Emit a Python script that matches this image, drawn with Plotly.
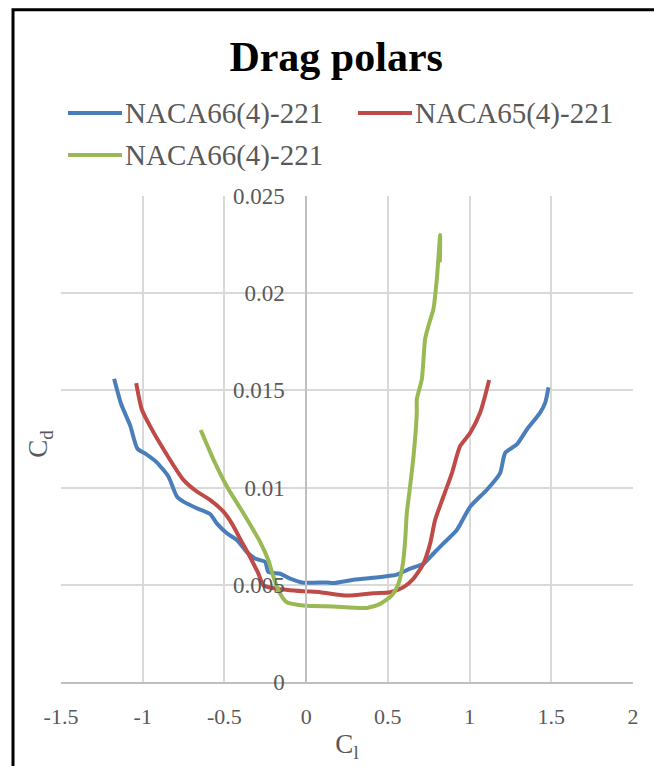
import plotly.graph_objects as go

# Drag polars: lift coefficient (Cl) vs drag coefficient (Cd)
naca66_a_cl = [-1.175, -1.132, -1.077, -1.032, -0.975, -0.914, -0.843, -0.791, -0.751, -0.669,
               -0.588, -0.547, -0.485, -0.424, -0.363, -0.312, -0.251, -0.231, -0.159, -0.098,
               -0.016, 0.127, 0.167, 0.290, 0.453, 0.555, 0.636, 0.718, 0.779, 0.840,
               0.922, 1.004, 1.106, 1.187, 1.218, 1.289, 1.351, 1.432, 1.463, 1.483]
naca66_a_cd = [0.0156, 0.0143, 0.0132, 0.0120, 0.0117, 0.0113, 0.01057, 0.00954, 0.00928, 0.00894,
               0.00864, 0.00816, 0.00765, 0.00730, 0.00669, 0.00635, 0.00618, 0.00566, 0.00557, 0.00532,
               0.00511, 0.00512, 0.00509, 0.00526, 0.00540, 0.00552, 0.00583, 0.00609, 0.00661, 0.00713,
               0.00782, 0.00902, 0.00989, 0.01075, 0.01179, 0.01222, 0.01299, 0.01386, 0.01437, 0.01515]

naca65_cl = [-1.040, -1.006, -0.955, -0.853, -0.751, -0.669, -0.588, -0.506, -0.455, -0.394,
             -0.343, -0.292, -0.261, -0.179, -0.016, 0.086, 0.249, 0.412, 0.514, 0.596,
             0.657, 0.718, 0.759, 0.789, 0.840, 0.892, 0.942, 1.004, 1.065, 1.095, 1.120]
naca65_cd = [0.01537, 0.01403, 0.01316, 0.01170, 0.01040, 0.00980, 0.00937, 0.00876, 0.00816, 0.00721,
             0.00643, 0.00557, 0.00497, 0.00480, 0.00467, 0.00462, 0.00445, 0.00457, 0.00462, 0.00488,
             0.00532, 0.00609, 0.00713, 0.00833, 0.00954, 0.01075, 0.01213, 0.01282, 0.01386, 0.01472, 0.01553]

naca66_b_cl = [-0.645, -0.567, -0.485, -0.384, -0.282, -0.231, -0.200, -0.159, -0.118, -0.016,
               0.167, 0.371, 0.453, 0.524, 0.565, 0.592, 0.606, 0.616, 0.636, 0.657,
               0.677, 0.677, 0.708, 0.728, 0.749, 0.779, 0.800, 0.820, 0.818]
naca66_b_cd = [0.01296, 0.01144, 0.01006, 0.00868, 0.00721, 0.00626, 0.00540, 0.00454, 0.00410, 0.00393,
               0.00388, 0.00381, 0.00402, 0.00445, 0.00506, 0.00609, 0.00730, 0.00868, 0.01006, 0.01161,
               0.01386, 0.01454, 0.01558, 0.01765, 0.01834, 0.01920, 0.02076, 0.02300, 0.02160]

series_names = ["NACA66(4)-221", "NACA65(4)-221", "NACA66(4)-221"]
series_colors = ["#4A7EBB", "#BE4B48", "#98B954"]

x_tick_vals = [-1.5, -1, -0.5, 0, 0.5, 1, 1.5, 2]
x_tick_text = ["-1.5", "-1", "-0.5", "0", "0.5", "1", "1.5", "2"]
y_tick_vals = [0, 0.005, 0.01, 0.015, 0.02, 0.025]
y_tick_text = ["0", "0.005", "0.01", "0.015", "0.02", "0.025"]

SERIF = "Times New Roman, Liberation Serif, serif"
GRID = "#D9D9D9"
LABEL = "#595959"
LINE_W = 4

W, H = 654, 766
M_L, M_R, M_T, M_B = 61, 21, 196, 84
PLOT_W = W - M_L - M_R
PLOT_H = H - M_T - M_B


def px_to_paper(px, py):
    """Convert a pixel position on the page to paper coordinates."""
    return (px - M_L) / PLOT_W, (H - M_B - py) / PLOT_H


fig = go.Figure()
for name, color, xs, ys in zip(series_names, series_colors,
                               [naca66_a_cl, naca65_cl, naca66_b_cl],
                               [naca66_a_cd, naca65_cd, naca66_b_cd]):
    fig.add_trace(go.Scatter(x=xs, y=ys, name=name, mode="lines", showlegend=False,
                             line=dict(color=color, width=LINE_W, shape="spline", smoothing=0.6)))

fig.update_layout(
    width=W, height=H,
    margin=dict(l=M_L, r=M_R, t=M_T, b=M_B),
    paper_bgcolor="white", plot_bgcolor="white",
    font=dict(family=SERIF, color=LABEL),
    title=dict(text="<b>Drag polars</b>", x=0.514, xanchor="center", y=0.926, yanchor="middle",
               font=dict(family=SERIF, size=42, color="black")),
    showlegend=False,
    xaxis=dict(range=[-1.5, 2], tickvals=x_tick_vals, ticktext=x_tick_text,
               showgrid=True, gridcolor=GRID, gridwidth=1.5, zeroline=False,
               showline=True, linecolor="#BFBFBF", linewidth=1.5,
               ticks="", ticklabelstandoff=14,
               tickfont=dict(family=SERIF, size=22, color=LABEL),
               title=dict(text="C<sub>l</sub>", standoff=6,
                          font=dict(family=SERIF, size=27, color=LABEL))),
    yaxis=dict(range=[0, 0.025], tickvals=y_tick_vals, ticktext=y_tick_text,
               anchor="free", position=1.5 / 3.5,
               showgrid=True, gridcolor=GRID, gridwidth=1.5, zeroline=False,
               showline=True, linecolor="#BFBFBF", linewidth=1.5,
               ticks="", ticklabelstandoff=16,
               tickfont=dict(family=SERIF, size=23, color=LABEL)),
)

# legend: two entries on the first row, one on the second
legend_slots = [(68, 113), (358, 113), (68, 155)]
for name, color, (lx, ly) in zip(series_names, series_colors, legend_slots):
    x0, y0 = px_to_paper(lx, ly)
    x1, _ = px_to_paper(lx + 54, ly)
    xt, _ = px_to_paper(lx + 55, ly)
    fig.add_shape(type="line", xref="paper", yref="paper", x0=x0, x1=x1, y0=y0, y1=y0,
                  line=dict(color=color, width=LINE_W))
    fig.add_annotation(text=name, xref="paper", yref="paper", x=xt, y=y0,
                       xanchor="left", yanchor="middle", showarrow=False,
                       font=dict(family=SERIF, size=29, color=LABEL))

# y-axis title sits at the left edge of the chart, not beside the centred axis
fig.add_annotation(text="C<sub>d</sub>", xref="paper", yref="paper", x=-0.037, y=0.49,
                   textangle=-90, showarrow=False, xanchor="center", yanchor="middle",
                   font=dict(family=SERIF, size=27, color=LABEL))

# chart frame
fig.add_shape(type="rect", xref="paper", yref="paper", x0=-0.0839, x1=1.3, y0=-0.4, y1=1.383,
              line=dict(color="black", width=3), fillcolor="rgba(0,0,0,0)", layer="below")

fig.write_html("out.html")
